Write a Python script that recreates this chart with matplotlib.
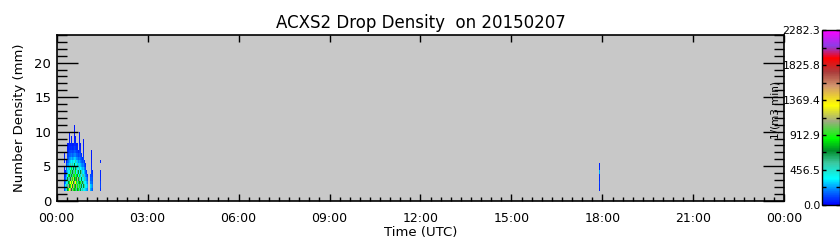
import numpy as np
import matplotlib
matplotlib.use("Agg")
import matplotlib.pyplot as plt
from matplotlib.colors import LinearSegmentedColormap
import matplotlib.ticker as mticker

# ---------------- text ----------------
title = "ACXS2 Drop Density  on 20150207"
xlabel = "Time (UTC)"
ylabel = "Number Density (mm)"
cbar_label = "1/(m3 min)"
x_tick_hours = [0, 3, 6, 9, 12, 15, 18, 21, 24]
x_tick_labels = ["00:00", "03:00", "06:00", "09:00", "12:00", "15:00", "18:00", "21:00", "00:00"]
y_ticks = [0, 5, 10, 15, 20]
cbar_ticks = [0.0, 456.5, 912.9, 1369.4, 1825.8, 2282.3]
cbar_tick_labels = ["0.0", "456.5", "912.9", "1369.4", "1825.8", "2282.3"]
vmax = 2282.3

# ---------------- data ----------------
# diameter bin edges (mm)
diam_edges = [1.4, 1.9, 2.4, 2.9, 3.4, 3.9, 4.4, 4.9, 5.4, 5.9, 6.4,
              6.9, 7.4, 7.9, 8.4, 8.9, 9.4, 9.9, 10.4, 10.9]
bin_minutes = 2
# start minute (UTC) of each non-empty 2-minute column
col_start_min = [14, 16, 18, 20, 22, 24, 26, 28, 30, 32, 34, 36, 38, 40, 42,
                 44, 46, 48, 50, 52, 54, 56, 58, 60, 66, 68, 70, 86, 1074]
# drop density per diameter bin, from the lowest bin upward (0 = no drops)
col_values = [
    [120, 150, 100, 80, 60, 50, 40, 0, 40, 60, 40],
    [250, 330, 200, 150, 100, 60],
    [380, 520, 360, 300, 250, 200, 150, 100, 60],
    [700, 540, 380, 700, 360, 280, 350, 220, 150, 120, 90, 60, 50, 40],
    [880, 1100, 700, 520, 860, 380, 300, 240, 180, 130, 100, 70, 50, 40],
    [1300, 720, 870, 540, 700, 360, 520, 300, 250, 200, 150, 100, 80, 60, 50, 40, 40],
    [1550, 860, 1300, 700, 540, 880, 360, 520, 300, 230, 160, 110, 70, 50],
    [720, 1350, 880, 1100, 700, 530, 870, 380, 350, 260, 180, 120, 80, 60, 50, 40],
    [1100, 700, 1300, 880, 540, 720, 380, 540, 300, 220, 150, 100, 60, 50],
    [880, 1500, 720, 1200, 860, 540, 700, 360, 380, 250, 170, 110, 70, 50],
    [700, 880, 1100, 720, 870, 540, 380, 700, 340, 300, 200, 150, 100, 70, 50, 40, 40, 40, 40],
    [880, 720, 1300, 860, 540, 870, 720, 360, 520, 280, 200, 130, 80, 60, 50, 40],
    [540, 1100, 880, 700, 860, 380, 540, 360, 300, 220, 150, 90, 60, 50],
    [720, 870, 540, 1150, 700, 540, 360, 520, 280, 200, 140, 90, 60, 50],
    [860, 540, 880, 700, 380, 720, 360, 300, 220, 160, 100, 70],
    [540, 880, 720, 540, 870, 360, 520, 300, 250, 180, 130, 90, 70, 50, 40, 40, 40],
    [700, 540, 870, 380, 540, 700, 340, 280, 200, 150, 110, 80, 50, 40],
    [380, 720, 540, 700, 360, 520, 300, 220, 160, 110, 70],
    [540, 380, 700, 360, 520, 300, 250, 180, 120, 80],
    [360, 720, 540, 380, 540, 340, 280, 200, 150, 110, 80, 60, 50, 40, 40],
    [380, 540, 360, 520, 300, 250, 180, 120, 70],
    [300, 380, 340, 280, 220, 160, 100, 60],
    [250, 330, 280, 220, 150, 100],
    [200, 260, 200, 140, 90],
    [250, 300, 200, 150, 120],
    [200, 250, 180, 150, 120, 90, 70, 60, 50, 40, 40, 40],
    [150, 200, 150, 120, 90, 70],
    [80, 100, 90, 70, 60, 60, 0, 0, 60],
    [60, 80, 90, 70, 80, 250, 70, 60],
]

# ---------------- colormap ----------------
cmap_pos = [0.0, 0.08, 0.15, 0.24, 0.31, 0.38, 0.48, 0.57, 0.68, 0.76, 0.84, 0.91, 1.0]
cmap_cols = ["#0000ff", "#0078ff", "#00ffff", "#3cc8a0", "#008c28", "#00ff00",
             "#a0aa82", "#ffff00", "#d2966e", "#aa3c3c", "#ff0000", "#8c3ce6", "#ff00ff"]
cmap = LinearSegmentedColormap.from_list("idl_like", list(zip(cmap_pos, cmap_cols)), N=256)

# build grid
n_cols = 1440 // bin_minutes
time_edges_h = np.arange(n_cols + 1) * bin_minutes / 60.0
Z = np.full((len(diam_edges) - 1, n_cols), np.nan)
for t0, vals in zip(col_start_min, col_values):
    j = t0 // bin_minutes
    for i, v in enumerate(vals):
        if v > 0:
            Z[i, j] = v
Zm = np.ma.masked_invalid(Z)

plt.rcParams["font.family"] = ["DejaVu Sans"]
fig = plt.figure(figsize=(8.4, 2.5), dpi=100)
ax = fig.add_axes([56.7 / 840, 1 - 200.7 / 250, (784.3 - 56.7) / 840, (200.7 - 35) / 250])
ax.set_facecolor("#c8c8c8")
mesh = ax.pcolormesh(time_edges_h, diam_edges, Zm, cmap=cmap, vmin=0, vmax=vmax,
                     shading="flat", antialiased=False, linewidth=0)

ax.set_xlim(0, 24)
ax.set_ylim(0, 24)
ax.set_xticks(x_tick_hours)
ax.set_xticklabels(x_tick_labels, fontsize=9)
ax.xaxis.set_minor_locator(mticker.MultipleLocator(1 / 3))
ax.set_yticks(y_ticks)
ax.set_yticklabels([str(v) for v in y_ticks], fontsize=9.5)
ax.yaxis.set_minor_locator(mticker.MultipleLocator(1))
ax.tick_params(axis="y", which="major", direction="in", length=15, width=1,
               left=True, right=True, pad=4)
ax.tick_params(axis="y", which="minor", direction="in", length=7.5, width=1,
               left=True, right=True)
ax.tick_params(axis="x", which="major", direction="in", length=5, width=1,
               top=True, bottom=True, pad=8)
ax.tick_params(axis="x", which="minor", direction="in", length=3, width=1,
               top=False, bottom=True)
for s in ax.spines.values():
    s.set_linewidth(1.2)

ax.set_xlabel(xlabel, fontsize=9.5, labelpad=1)
ax.set_ylabel(ylabel, fontsize=9.5, labelpad=6)
ax.set_title(title, fontsize=12, pad=5)

# colorbar
cax = fig.add_axes([822.3 / 840, 1 - 205 / 250, (840 - 822.3) / 840, 175 / 250])
cb = fig.colorbar(mesh, cax=cax)
cb.set_ticks(cbar_ticks)
cb.set_ticklabels(cbar_tick_labels)
cb.outline.set_linewidth(1)
cax.yaxis.set_ticks_position("both")
cax.yaxis.set_label_position("left")
cax.yaxis.set_tick_params(labelleft=True, labelright=False)
cax.yaxis.set_minor_locator(mticker.FixedLocator(
    [(cbar_ticks[k] + cbar_ticks[k + 1]) / 2 for k in range(len(cbar_ticks) - 1)]))
cax.tick_params(which="both", direction="in", length=3, width=1, labelsize=7.8, pad=1.5)

fig.text(775 / 840, 1 - 109.6 / 250, cbar_label, rotation=90, ha="center", va="center",
         fontsize=7.5)

fig.savefig("out.png", dpi=100)
